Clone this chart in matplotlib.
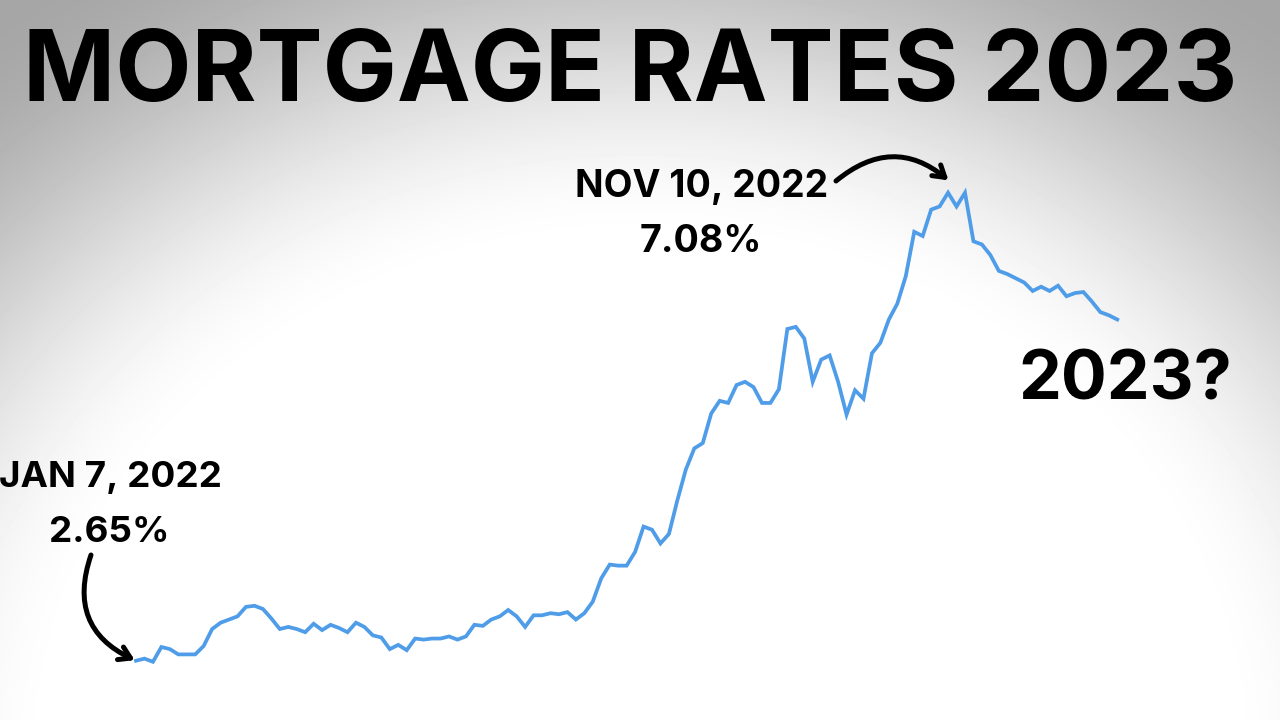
import numpy as np
import matplotlib
matplotlib.use("Agg")
import matplotlib.pyplot as plt

# ---- data (30-yr mortgage rate, 2022 -> early 2023) ----
rates = [2.65, 2.67, 2.64, 2.78, 2.76, 2.71, 2.71, 2.71, 2.79, 2.95,
         3.01, 3.04, 3.07, 3.16, 3.17, 3.14, 3.05, 2.95, 2.97, 2.95,
         2.92, 3.00, 2.94, 2.99, 2.96, 2.92, 3.01, 2.97, 2.89, 2.87,
         2.76, 2.80, 2.75, 2.86, 2.85, 2.86, 2.86, 2.88, 2.85, 2.88,
         2.99, 2.98, 3.04, 3.07, 3.13, 3.07, 2.97, 3.08, 3.08, 3.10,
         3.09, 3.11, 3.04, 3.10, 3.21, 3.43, 3.56, 3.55, 3.55, 3.68,
         3.92, 3.89, 3.76, 3.85, 4.17, 4.46, 4.66, 4.71, 4.99, 5.11,
         5.09, 5.26, 5.29, 5.24, 5.09, 5.09, 5.22, 5.79, 5.81, 5.70,
         5.29, 5.50, 5.54, 5.29, 4.98, 5.21, 5.13, 5.56, 5.66, 5.88,
         6.03, 6.29, 6.71, 6.67, 6.92, 6.95, 7.08, 6.95, 7.08, 6.62,
         6.59, 6.49, 6.34, 6.31, 6.27, 6.23, 6.15, 6.19, 6.15, 6.20,
         6.10, 6.13, 6.14, 6.05, 5.95, 5.92, 5.88]
title = "MORTGAGE RATES 2023"
start_date, start_value = "JAN 7, 2022", "2.65%"
peak_date, peak_value = "NOV 10, 2022", "7.08%"
future_label = "2023?"
start_idx = 0
peak_idx = 96

W, H = 1280, 720
fig = plt.figure(figsize=(12.8, 7.2), dpi=100)

# ---- background radial gradient ----
bg = fig.add_axes([0, 0, 1, 1], zorder=0)
yy, xx = np.mgrid[0:H, 0:W]
r = np.sqrt(((xx - 640) / 780.0) ** 2 + ((yy - 760) / 690.0) ** 2)
t = np.clip((r - 0.74) / 0.62, 0, 1)
s = 3 * t ** 2 - 2 * t ** 3
v = 1 - 0.35 * s
bg.imshow(v, cmap="gray", vmin=0, vmax=1, extent=[0, W, H, 0], aspect="auto",
          interpolation="bilinear")
bg.set_axis_off()

# ---- line chart ----
ax = fig.add_axes([0, 0, 1, 1], zorder=1)
ax.patch.set_alpha(0)
x = np.arange(len(rates))
ax.plot(x, rates, color="#4f9ce8", lw=2.7, solid_joinstyle="miter", zorder=3)
ax.set_xlim(-16.08, 135.24)
ax.set_ylim(2.089, 8.904)
ax.set_axis_off()

font = "Inter"
fig.text(630 / W, 1 - 101 / H, title, ha="center", va="baseline",
         fontsize=71.3, fontweight="bold", family=font, color="black")

fig.text(110 / W, 1 - 487 / H, start_date, ha="center", va="baseline",
         fontsize=26.5, fontweight="bold", family=font)
fig.text(109 / W, 1 - 542 / H, start_value, ha="center", va="baseline",
         fontsize=26.5, fontweight="bold", family=font)
fig.text(702 / W, 1 - 197 / H, peak_date, ha="center", va="baseline",
         fontsize=27, fontweight="bold", family=font)
fig.text(701 / W, 1 - 252 / H, peak_value, ha="center", va="baseline",
         fontsize=27, fontweight="bold", family=font)
fig.text(1125 / W, 1 - 400 / H, future_label, ha="center", va="baseline",
         fontsize=49, fontweight="bold", family=font)

arrow_kw = dict(arrowstyle="->,head_length=0.8,head_width=0.5", lw=3.6,
                color="black", capstyle="round", joinstyle="round")
ax.annotate("", xy=(start_idx, rates[start_idx]),
            xytext=(91 / W, 1 - 555 / H), textcoords="figure fraction",
            arrowprops=dict(connectionstyle="arc3,rad=0.45", shrinkA=0,
                            shrinkB=1, **arrow_kw))
ax.annotate("", xy=(peak_idx + 0.3, rates[peak_idx] + 0.1),
            xytext=(836 / W, 1 - 181 / H), textcoords="figure fraction",
            arrowprops=dict(connectionstyle="arc3,rad=-0.42", shrinkA=0,
                            shrinkB=2, **arrow_kw))

fig.savefig("out.png", dpi=100)
